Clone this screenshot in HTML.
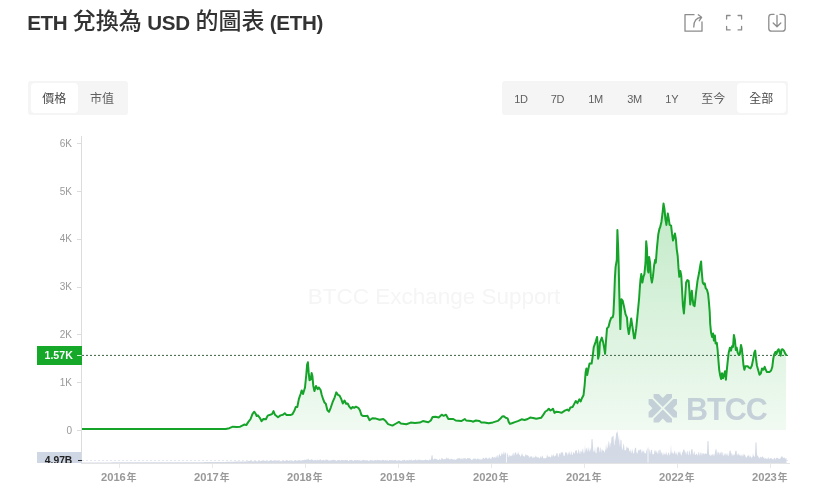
<!DOCTYPE html>
<html lang="zh-Hant">
<head>
<meta charset="utf-8">
<title>ETH 兌換為 USD 的圖表 (ETH)</title>
<style>
html,body{margin:0;padding:0;background:#fff;}
body{width:821px;height:492px;position:relative;overflow:hidden;font-family:"Liberation Sans","Noto Sans CJK TC",sans-serif;color:#333;}
.title{position:absolute;left:0;top:0;height:44px;width:400px;color:#333;white-space:nowrap;}
.title span{position:absolute;top:8px;line-height:28px;white-space:nowrap;}
.title .l{font-size:20.6px;font-weight:bold;top:8.8px;letter-spacing:-0.35px;}
.title .c{font-size:23px;font-weight:500;top:7px;}
.tabs{position:absolute;top:80.5px;height:34px;background:#f5f5f5;border-radius:3px;box-sizing:border-box;}
.tab{position:absolute;top:2.5px;height:29.5px;line-height:33.2px;text-align:center;font-size:12px;color:#606060;border-radius:4px;white-space:nowrap;}
.tab.on{background:#fff;color:#484848;}
svg{position:absolute;left:0;top:0;}
.yl{font-size:10px;fill:#999;text-anchor:end;}
.xl{font-size:11.2px;fill:#999;text-anchor:middle;font-weight:bold;}
</style>
</head>
<body>
<div class="title"><span class="l" style="left:27.2px">ETH </span><span class="c" style="left:72.8px">兌換為</span><span class="l" style="left:147.3px">USD </span><span class="c" style="left:195.5px">的圖表</span><span class="l" style="left:269.8px">(ETH)</span></div>

<div class="tabs" style="left:28px;width:100px;">
  <div class="tab on" style="left:2.5px;width:47.7px;">價格</div>
  <div class="tab" style="left:50.2px;width:47.5px;">市值</div>
</div>

<div class="tabs" style="left:501.5px;width:286.5px;">
  <div class="tab" style="left:1.5px;width:36px;font-size:11px;letter-spacing:-0.3px;">1D</div>
  <div class="tab" style="left:37.5px;width:37px;font-size:11px;letter-spacing:-0.3px;">7D</div>
  <div class="tab" style="left:74.5px;width:39px;font-size:11px;letter-spacing:-0.3px;">1M</div>
  <div class="tab" style="left:113.5px;width:39px;font-size:11px;letter-spacing:-0.3px;">3M</div>
  <div class="tab" style="left:152.5px;width:35.5px;font-size:11px;letter-spacing:-0.3px;">1Y</div>
  <div class="tab" style="left:188px;width:47.5px;">至今</div>
  <div class="tab on" style="left:235.5px;width:48.5px;">全部</div>
</div>

<svg width="821" height="492" viewBox="0 0 821 492">
  <defs>
    <linearGradient id="g" x1="0" y1="203" x2="0" y2="430" gradientUnits="userSpaceOnUse">
      <stop offset="0" stop-color="#25b338" stop-opacity="0.28"/>
      <stop offset="1" stop-color="#25b338" stop-opacity="0.065"/>
    </linearGradient>
  </defs>

  <!-- toolbar icons -->
  <g fill="none" stroke="#8c8c8c" stroke-width="1.3" stroke-linecap="round" stroke-linejoin="round">
    <path d="M694,14.7 H685 V31.2 H702 V22"/>
    <path d="M693.8,27 C693.8,21 696.5,17.6 701.3,17.4 M698.3,14.8 L701.6,17.3 L699.2,20.8"/>
    <path d="M726.6,19 V15.5 H730.1 M738.1,15.5 H741.6 V19 M741.6,26.4 V29.9 H738.1 M730.1,29.9 H726.6 V26.4"/>
    <path d="M774,14.4 H771.6 Q768.8,14.4 768.8,17.2 V28.4 Q768.8,31.2 771.6,31.2 H782.4 Q785.2,31.2 785.2,28.4 V17.2 Q785.2,14.4 782.4,14.4 H780"/>
    <path d="M777,15.4 V26.6 M773.2,23 L777,26.8 L780.8,23"/>
  </g>

  <!-- watermark center -->
  <text x="434" y="304" font-size="22.5" fill="#f5f5f5" text-anchor="middle">BTCC Exchange Support</text>

  <!-- area + line -->
  <path d="M82.0,429.0 L120.0,429.0 L160.0,429.0 L200.0,429.0 L225.6,429.0 L229.3,428.2 L232.9,426.7 L236.6,427.0 L240.2,426.7 L242.7,425.4 L244.5,424.5 L246.3,425.1 L248.2,422.1 L250.6,419.0 L252.4,414.1 L254.3,411.7 L255.5,413.5 L256.7,416.0 L257.9,415.4 L259.8,417.8 L261.6,421.2 L263.4,419.0 L265.9,419.3 L267.7,415.6 L270.1,414.8 L272.0,414.1 L273.5,411.1 L275.0,414.8 L278.0,417.2 L280.5,415.4 L282.9,414.8 L284.8,413.2 L286.6,415.1 L290.2,415.1 L292.4,414.3 L294.6,410.3 L295.7,407.0 L297.3,407.0 L298.9,398.9 L300.6,394.0 L301.7,390.4 L303.0,394.0 L305.0,387.5 L306.3,374.5 L307.1,364.8 L307.9,362.3 L308.7,372.9 L309.5,380.2 L310.8,379.4 L311.6,372.9 L312.4,376.1 L313.3,385.9 L314.4,391.1 L316.0,385.9 L317.6,389.1 L318.9,387.5 L320.6,390.0 L321.7,394.8 L323.3,399.7 L324.5,402.5 L325.8,403.8 L327.4,410.3 L329.0,411.9 L330.7,407.8 L332.6,402.2 L334.7,397.3 L336.3,392.4 L338.0,394.8 L339.6,395.7 L341.2,398.9 L342.8,403.5 L344.5,400.5 L346.1,403.8 L347.7,403.5 L349.3,406.7 L351.0,408.7 L352.6,407.0 L354.2,407.8 L355.9,406.7 L358.3,407.8 L359.9,410.3 L361.5,415.2 L363.2,416.0 L366.4,416.0 L367.4,415.8 L369.6,420.2 L372.3,418.3 L376.0,418.6 L379.6,419.8 L383.3,419.0 L385.7,421.1 L388.1,424.1 L392.4,425.6 L396.1,423.5 L398.9,421.9 L400.9,423.5 L406.4,424.3 L410.7,422.6 L414.9,423.1 L419.8,422.6 L422.9,421.1 L428.3,422.3 L430.8,420.5 L432.6,417.0 L435.6,416.8 L438.7,417.4 L441.7,414.7 L443.6,415.8 L446.0,414.7 L448.4,419.0 L453.3,419.0 L455.7,420.5 L461.2,421.1 L463.0,420.2 L464.9,419.0 L466.1,420.5 L471.0,420.9 L472.8,421.7 L475.9,420.5 L479.5,420.9 L481.3,422.4 L484.4,422.4 L488.7,423.3 L492.9,422.4 L497.8,420.9 L500.2,418.8 L502.1,416.6 L503.9,416.3 L505.7,417.8 L507.6,418.4 L508.8,422.1 L510.0,423.9 L511.8,423.3 L514.9,422.1 L518.5,420.9 L521.6,419.3 L524.6,420.0 L527.7,419.0 L530.1,417.6 L533.2,418.0 L536.2,418.8 L541.1,417.8 L542.9,415.4 L545.4,411.5 L547.2,410.5 L548.8,408.7 L550.2,410.5 L551.5,409.9 L552.9,408.7 L554.5,412.9 L556.3,411.7 L558.3,411.9 L561.5,412.8 L564.8,410.7 L567.2,409.6 L568.8,410.7 L570.4,407.5 L572.6,407.0 L574.5,403.4 L575.8,401.0 L577.4,403.1 L579.4,399.3 L580.7,401.5 L581.8,398.5 L583.5,395.3 L584.6,385.5 L585.6,372.5 L586.4,368.5 L587.2,375.0 L588.3,369.3 L589.5,363.6 L591.6,363.6 L592.7,356.3 L593.7,347.3 L595.7,341.6 L597.1,336.9 L597.6,345.0 L598.1,358.7 L599.2,354.6 L599.9,342.6 L601.8,337.6 L603.2,342.6 L604.2,348.0 L605.1,353.8 L606.1,339.7 L607.0,328.4 L608.5,326.9 L609.9,321.3 L611.3,317.7 L612.7,317.3 L613.4,314.1 L614.2,297.1 L614.9,278.0 L615.6,266.9 L616.8,259.8 L617.4,230.0 L618.2,248.4 L618.8,269.8 L619.2,289.7 L619.9,315.6 L620.3,329.1 L620.8,315.6 L621.4,299.2 L622.7,300.6 L624.1,307.0 L625.5,314.1 L627.0,317.7 L627.7,326.9 L628.8,334.1 L629.8,328.4 L631.2,318.4 L632.7,328.4 L634.1,338.3 L634.8,338.3 L636.2,328.4 L637.6,314.1 L639.1,298.5 L639.8,288.0 L640.5,279.7 L641.3,274.1 L642.4,282.6 L643.4,276.9 L644.4,274.1 L645.5,262.7 L646.2,241.3 L646.9,248.4 L647.7,269.8 L648.4,272.6 L649.1,257.0 L650.1,262.7 L650.9,276.9 L651.9,282.6 L652.9,276.9 L654.1,265.5 L655.2,259.8 L655.8,262.7 L656.9,248.4 L658.3,234.2 L659.5,228.5 L660.0,227.7 L661.4,222.0 L662.5,213.5 L663.5,203.5 L664.5,209.2 L665.4,219.2 L666.4,224.9 L667.1,219.2 L667.8,213.5 L668.8,219.2 L669.6,224.9 L671.1,225.6 L672.0,233.4 L673.0,240.5 L673.9,237.7 L674.9,233.4 L675.9,239.1 L676.7,249.1 L677.7,256.0 L678.5,267.9 L679.3,276.8 L680.4,271.1 L681.3,276.0 L682.1,290.7 L682.9,305.3 L683.9,313.4 L684.8,302.0 L686.1,282.5 L687.4,280.1 L688.6,280.9 L689.4,290.7 L690.2,304.5 L691.0,298.8 L691.8,290.7 L692.6,298.8 L693.5,305.3 L694.6,306.1 L695.9,293.9 L697.5,280.9 L699.1,272.8 L700.4,264.6 L701.1,261.4 L701.7,271.1 L702.7,282.5 L703.7,284.1 L704.7,283.3 L705.7,288.2 L707.0,289.8 L708.1,293.9 L708.9,302.0 L709.7,311.8 L710.2,324.0 L711.1,332.8 L712.1,337.1 L713.1,333.5 L713.9,340.6 L714.9,335.6 L715.6,343.5 L716.8,342.8 L717.6,349.9 L718.5,361.3 L719.2,369.8 L720.2,375.5 L721.1,379.0 L722.0,373.3 L723.0,378.3 L724.2,374.1 L725.0,371.2 L725.9,379.7 L726.7,371.2 L727.7,361.3 L728.7,352.7 L729.9,347.7 L731.0,350.6 L732.0,346.3 L733.0,347.0 L733.9,334.9 L734.9,339.9 L735.8,349.9 L736.7,347.7 L737.7,352.7 L738.7,354.9 L739.8,354.1 L741.0,344.9 L741.8,348.4 L742.7,357.0 L743.5,365.5 L744.4,369.8 L745.5,366.2 L747.7,366.2 L749.1,367.7 L750.5,368.4 L751.9,365.5 L753.3,358.4 L754.3,352.7 L755.2,350.6 L756.0,358.4 L756.9,365.5 L758.3,370.5 L759.5,374.8 L760.9,373.3 L762.0,368.4 L763.3,369.8 L764.7,366.9 L765.7,369.8 L766.9,371.9 L769.7,371.9 L771.1,370.5 L772.3,366.9 L773.3,358.4 L774.3,354.1 L775.4,352.0 L776.4,354.1 L777.5,350.6 L778.7,349.2 L779.7,352.7 L780.7,355.6 L781.4,349.9 L782.5,349.2 L783.9,350.6 L785.1,353.4 L786.1,354.9 L786.1,430 L82,430 Z" fill="url(#g)"/>

  <!-- BTCC logo watermark -->
  <g fill="#aab6c9" opacity="0.6">
    <g transform="translate(662.8,408.2)"><path transform="rotate(0)" d="M-1.3,0.0 L-10.5,-9.2 L-14.2,-9.2 L-14.2,-3.9 L-10.3,0.0 L-14.2,3.9 L-14.2,9.2 L-10.5,9.2 Z"/><path transform="rotate(90)" d="M-1.3,0.0 L-10.5,-9.2 L-14.2,-9.2 L-14.2,-3.9 L-10.3,0.0 L-14.2,3.9 L-14.2,9.2 L-10.5,9.2 Z"/><path transform="rotate(180)" d="M-1.3,0.0 L-10.5,-9.2 L-14.2,-9.2 L-14.2,-3.9 L-10.3,0.0 L-14.2,3.9 L-14.2,9.2 L-10.5,9.2 Z"/><path transform="rotate(270)" d="M-1.3,0.0 L-10.5,-9.2 L-14.2,-9.2 L-14.2,-3.9 L-10.3,0.0 L-14.2,3.9 L-14.2,9.2 L-10.5,9.2 Z"/></g>
    <text x="686" y="420" font-size="30.5" font-weight="bold" letter-spacing="-1">BTCC</text>
  </g>

  <!-- volume dotted line -->
  <line x1="82" y1="460.5" x2="790" y2="460.5" stroke="#e4e8f1" stroke-width="1" stroke-dasharray="2,2"/>
  <!-- volume -->
  <path d="M82,463 L82.0,462.4 L82.5,462.4 L83.0,462.4 L83.5,462.4 L84.0,462.4 L84.5,462.4 L85.0,462.4 L85.5,462.4 L86.0,462.4 L86.5,462.4 L87.0,462.4 L87.5,462.4 L88.0,462.4 L88.5,462.4 L89.0,462.4 L89.5,462.4 L90.0,462.4 L90.5,462.4 L91.0,462.4 L91.5,462.4 L92.0,462.4 L92.5,462.4 L93.0,462.4 L93.5,462.4 L94.0,462.4 L94.5,462.4 L95.0,462.4 L95.5,462.4 L96.0,462.4 L96.5,462.4 L97.0,462.4 L97.5,462.4 L98.0,462.4 L98.5,462.4 L99.0,462.4 L99.5,462.4 L100.0,462.4 L100.5,462.4 L101.0,462.4 L101.5,462.4 L102.0,462.4 L102.5,462.4 L103.0,462.4 L103.5,462.4 L104.0,462.4 L104.5,462.4 L105.0,462.4 L105.5,462.4 L106.0,462.4 L106.5,462.4 L107.0,462.4 L107.5,462.4 L108.0,462.4 L108.5,462.4 L109.0,462.4 L109.5,462.4 L110.0,462.4 L110.5,462.4 L111.0,462.4 L111.5,462.4 L112.0,462.3 L112.5,462.3 L113.0,462.3 L113.5,462.3 L114.0,462.3 L114.5,462.3 L115.0,462.3 L115.5,462.3 L116.0,462.3 L116.5,462.3 L117.0,462.3 L117.5,462.3 L118.0,462.3 L118.5,462.3 L119.0,462.3 L119.5,462.3 L120.0,462.3 L120.5,462.3 L121.0,462.3 L121.5,462.3 L122.0,462.3 L122.5,462.3 L123.0,462.3 L123.5,462.3 L124.0,462.3 L124.5,462.3 L125.0,462.3 L125.5,462.3 L126.0,462.3 L126.5,462.3 L127.0,462.3 L127.5,462.3 L128.0,462.3 L128.5,462.3 L129.0,462.3 L129.5,462.3 L130.0,462.3 L130.5,462.3 L131.0,462.3 L131.5,462.3 L132.0,462.3 L132.5,462.3 L133.0,462.3 L133.5,462.3 L134.0,462.3 L134.5,462.3 L135.0,462.3 L135.5,462.3 L136.0,462.3 L136.5,462.3 L137.0,462.3 L137.5,462.3 L138.0,462.3 L138.5,462.3 L139.0,462.3 L139.5,462.3 L140.0,462.3 L140.5,462.3 L141.0,462.3 L141.5,462.3 L142.0,462.3 L142.5,462.3 L143.0,462.3 L143.5,462.3 L144.0,462.3 L144.5,462.3 L145.0,462.3 L145.5,462.3 L146.0,462.3 L146.5,462.3 L147.0,462.3 L147.5,462.3 L148.0,462.3 L148.5,462.3 L149.0,462.3 L149.5,462.3 L150.0,462.3 L150.5,462.3 L151.0,462.3 L151.5,462.3 L152.0,462.3 L152.5,462.3 L153.0,462.3 L153.5,462.3 L154.0,462.3 L154.5,462.3 L155.0,462.3 L155.5,462.3 L156.0,462.3 L156.5,462.3 L157.0,462.3 L157.5,462.3 L158.0,462.3 L158.5,462.3 L159.0,462.3 L159.5,462.3 L160.0,462.3 L160.5,462.3 L161.0,462.3 L161.5,462.3 L162.0,462.3 L162.5,462.3 L163.0,462.3 L163.5,462.3 L164.0,462.3 L164.5,462.3 L165.0,462.3 L165.5,462.3 L166.0,462.3 L166.5,462.3 L167.0,462.3 L167.5,462.3 L168.0,462.3 L168.5,462.3 L169.0,462.3 L169.5,462.3 L170.0,462.3 L170.5,462.2 L171.0,462.2 L171.5,462.2 L172.0,462.2 L172.5,462.2 L173.0,462.2 L173.5,462.2 L174.0,462.2 L174.5,462.2 L175.0,462.2 L175.5,462.2 L176.0,462.2 L176.5,462.2 L177.0,462.2 L177.5,462.2 L178.0,462.2 L178.5,462.2 L179.0,462.2 L179.5,462.2 L180.0,462.2 L180.5,462.2 L181.0,462.2 L181.5,462.2 L182.0,462.2 L182.5,462.2 L183.0,462.2 L183.5,462.2 L184.0,462.2 L184.5,462.2 L185.0,462.2 L185.5,462.2 L186.0,462.2 L186.5,462.2 L187.0,462.2 L187.5,462.2 L188.0,462.2 L188.5,462.2 L189.0,462.2 L189.5,462.2 L190.0,462.2 L190.5,462.2 L191.0,462.2 L191.5,462.2 L192.0,462.2 L192.5,462.2 L193.0,462.2 L193.5,462.2 L194.0,462.2 L194.5,462.2 L195.0,462.2 L195.5,462.2 L196.0,462.2 L196.5,462.2 L197.0,462.2 L197.5,462.2 L198.0,462.2 L198.5,462.2 L199.0,462.2 L199.5,462.2 L200.0,462.2 L200.5,462.2 L201.0,462.2 L201.5,462.2 L202.0,462.2 L202.5,462.2 L203.0,462.2 L203.5,462.2 L204.0,462.1 L204.5,462.1 L205.0,462.1 L205.5,462.1 L206.0,462.1 L206.5,462.1 L207.0,462.1 L207.5,462.1 L208.0,462.1 L208.5,462.1 L209.0,462.1 L209.5,462.1 L210.0,462.1 L210.5,462.1 L211.0,462.1 L211.5,462.0 L212.0,462.0 L212.5,462.0 L213.0,462.0 L213.5,462.0 L214.0,462.0 L214.5,462.0 L215.0,462.0 L215.5,462.0 L216.0,462.0 L216.5,462.0 L217.0,462.0 L217.5,462.0 L218.0,462.0 L218.5,462.0 L219.0,461.9 L219.5,461.9 L220.0,461.9 L220.5,461.9 L221.0,461.9 L221.5,461.9 L222.0,461.9 L222.5,461.9 L223.0,461.9 L223.5,461.9 L224.0,461.9 L224.5,461.9 L225.0,461.9 L225.5,461.9 L226.0,461.9 L226.5,461.8 L227.0,461.8 L227.5,461.8 L228.0,461.8 L228.5,461.8 L229.0,461.8 L229.5,461.8 L230.0,461.8 L230.5,461.8 L231.0,461.8 L231.5,461.8 L232.0,461.7 L232.5,461.7 L233.0,461.7 L233.5,461.7 L234.0,461.7 L234.5,461.7 L235.0,461.6 L235.5,461.6 L236.0,461.6 L236.5,461.6 L237.0,461.6 L237.5,461.6 L238.0,461.6 L238.5,461.5 L239.0,461.5 L239.5,461.5 L240.0,461.5 L240.5,461.6 L241.0,461.7 L241.5,461.2 L242.0,461.8 L242.5,461.3 L243.0,461.5 L243.5,461.7 L244.0,461.3 L244.5,461.7 L245.0,461.3 L245.5,461.7 L246.0,461.6 L246.5,461.3 L247.0,460.9 L247.5,461.6 L248.0,461.5 L248.5,461.0 L249.0,460.7 L249.5,461.0 L250.0,461.2 L250.5,460.6 L251.0,461.6 L251.5,460.7 L252.0,461.3 L252.5,461.5 L253.0,461.5 L253.5,461.3 L254.0,460.7 L254.5,461.4 L255.0,461.0 L255.5,460.9 L256.0,461.2 L256.5,461.0 L257.0,461.5 L257.5,461.5 L258.0,461.4 L258.5,460.8 L259.0,461.1 L259.5,461.2 L260.0,460.9 L260.5,461.1 L261.0,461.2 L261.5,460.7 L262.0,460.8 L262.5,461.3 L263.0,460.9 L263.5,461.0 L264.0,460.6 L264.5,460.7 L265.0,461.2 L265.5,460.4 L266.0,461.4 L266.5,461.1 L267.0,460.7 L267.5,461.4 L268.0,461.0 L268.5,461.5 L269.0,460.8 L269.5,460.6 L270.0,460.9 L270.5,460.5 L271.0,461.2 L271.5,460.7 L272.0,460.8 L272.5,460.8 L273.0,461.0 L273.5,460.5 L274.0,460.4 L274.5,460.9 L275.0,460.7 L275.5,461.4 L276.0,460.6 L276.5,460.7 L277.0,460.3 L277.5,460.5 L278.0,461.1 L278.5,461.0 L279.0,460.7 L279.5,461.4 L280.0,460.9 L280.5,461.3 L281.0,461.3 L281.5,461.4 L282.0,460.5 L282.5,461.3 L283.0,461.1 L283.5,461.0 L284.0,460.4 L284.5,461.3 L285.0,460.9 L285.5,460.7 L286.0,460.3 L286.5,460.4 L287.0,460.3 L287.5,461.1 L288.0,460.9 L288.5,461.0 L289.0,460.3 L289.5,460.2 L290.0,461.2 L290.5,461.2 L291.0,461.1 L291.5,461.1 L292.0,460.8 L292.5,460.6 L293.0,461.1 L293.5,461.4 L294.0,460.8 L294.5,460.9 L295.0,460.6 L295.5,460.1 L296.0,460.5 L296.5,460.7 L297.0,460.6 L297.5,460.5 L298.0,461.3 L298.5,460.2 L299.0,460.3 L299.5,460.2 L300.0,460.3 L300.5,460.7 L301.0,460.5 L301.5,460.8 L302.0,459.8 L302.5,460.7 L303.0,460.5 L303.5,460.2 L304.0,460.1 L304.5,459.6 L305.0,460.1 L305.5,460.1 L306.0,459.6 L306.5,459.8 L307.0,459.3 L307.5,460.1 L308.0,458.3 L308.5,459.0 L309.0,460.1 L309.5,459.9 L310.0,459.8 L310.5,459.9 L311.0,460.4 L311.5,459.1 L312.0,459.0 L312.5,459.9 L313.0,459.9 L313.5,460.6 L314.0,460.6 L314.5,460.2 L315.0,460.3 L315.5,459.4 L316.0,460.6 L316.5,460.8 L317.0,459.2 L317.5,460.0 L318.0,460.6 L318.5,460.0 L319.0,460.9 L319.5,460.0 L320.0,459.3 L320.5,459.5 L321.0,459.8 L321.5,460.5 L322.0,460.4 L322.5,460.7 L323.0,459.7 L323.5,460.1 L324.0,459.8 L324.5,460.5 L325.0,460.7 L325.5,459.8 L326.0,459.5 L326.5,459.7 L327.0,459.8 L327.5,459.8 L328.0,459.9 L328.5,460.7 L329.0,460.3 L329.5,460.6 L330.0,461.1 L330.5,461.1 L331.0,460.7 L331.5,460.7 L332.0,460.1 L332.5,459.7 L333.0,460.5 L333.5,459.7 L334.0,459.7 L334.5,459.7 L335.0,460.6 L335.5,460.8 L336.0,460.8 L336.5,460.8 L337.0,460.8 L337.5,460.2 L338.0,459.8 L338.5,459.9 L339.0,460.4 L339.5,460.2 L340.0,459.9 L340.5,461.0 L341.0,460.2 L341.5,459.8 L342.0,460.0 L342.5,460.0 L343.0,460.4 L343.5,460.9 L344.0,460.0 L344.5,460.6 L345.0,460.0 L345.5,459.7 L346.0,460.6 L346.5,460.5 L347.0,459.7 L347.5,460.1 L348.0,460.9 L348.5,461.0 L349.0,460.9 L349.5,459.8 L350.0,460.0 L350.5,460.9 L351.0,459.9 L351.5,459.7 L352.0,460.2 L352.5,460.6 L353.0,460.3 L353.5,461.0 L354.0,461.1 L354.5,459.7 L355.0,460.2 L355.5,460.4 L356.0,459.8 L356.5,460.5 L357.0,459.9 L357.5,459.9 L358.0,460.8 L358.5,460.8 L359.0,460.7 L359.5,460.8 L360.0,460.3 L360.5,460.8 L361.0,460.5 L361.5,461.0 L362.0,459.8 L362.5,460.6 L363.0,460.5 L363.5,460.3 L364.0,459.8 L364.5,460.5 L365.0,459.8 L365.5,460.4 L366.0,460.4 L366.5,460.4 L367.0,461.1 L367.5,460.5 L368.0,460.9 L368.5,461.2 L369.0,460.0 L369.5,460.9 L370.0,460.5 L370.5,460.1 L371.0,460.4 L371.5,460.7 L372.0,460.4 L372.5,460.4 L373.0,460.0 L373.5,461.0 L374.0,460.4 L374.5,460.8 L375.0,460.8 L375.5,460.0 L376.0,460.4 L376.5,460.4 L377.0,460.1 L377.5,459.8 L378.0,460.5 L378.5,460.3 L379.0,460.4 L379.5,460.4 L380.0,460.2 L380.5,460.5 L381.0,460.4 L381.5,460.5 L382.0,459.8 L382.5,460.2 L383.0,459.9 L383.5,459.8 L384.0,460.8 L384.5,460.4 L385.0,459.8 L385.5,460.0 L386.0,461.0 L386.5,461.0 L387.0,460.5 L387.5,461.1 L388.0,460.8 L388.5,461.1 L389.0,460.2 L389.5,460.1 L390.0,459.9 L390.5,461.0 L391.0,460.2 L391.5,460.2 L392.0,461.0 L392.5,459.9 L393.0,459.8 L393.5,460.9 L394.0,459.8 L394.5,460.6 L395.0,460.5 L395.5,459.8 L396.0,460.0 L396.5,461.0 L397.0,460.6 L397.5,460.5 L398.0,460.7 L398.5,460.9 L399.0,460.7 L399.5,460.2 L400.0,461.2 L400.5,460.4 L401.0,460.5 L401.5,461.1 L402.0,460.7 L402.5,460.2 L403.0,460.4 L403.5,461.0 L404.0,459.6 L404.5,459.9 L405.0,459.6 L405.5,460.9 L406.0,460.7 L406.5,461.0 L407.0,459.9 L407.5,460.6 L408.0,460.8 L408.5,460.4 L409.0,459.6 L409.5,459.7 L410.0,460.6 L410.5,460.7 L411.0,459.5 L411.5,460.0 L412.0,459.8 L412.5,460.8 L413.0,460.8 L413.5,459.8 L414.0,460.2 L414.5,460.8 L415.0,459.3 L415.5,459.8 L416.0,459.5 L416.5,460.7 L417.0,459.4 L417.5,460.7 L418.0,459.3 L418.5,460.0 L419.0,460.2 L419.5,459.8 L420.0,459.2 L420.5,460.3 L421.0,460.6 L421.5,459.8 L422.0,460.3 L422.5,460.6 L423.0,460.4 L423.5,460.6 L424.0,460.4 L424.5,460.1 L425.0,460.1 L425.5,459.3 L426.0,460.1 L426.5,459.7 L427.0,460.3 L427.5,460.0 L428.0,460.6 L428.5,460.2 L429.0,460.6 L429.5,459.2 L430.0,459.5 L430.5,460.2 L431.0,459.6 L431.5,455.6 L432.0,455.4 L432.5,455.1 L433.0,459.6 L433.5,459.4 L434.0,459.0 L434.5,458.3 L435.0,459.6 L435.5,458.5 L436.0,458.8 L436.5,458.9 L437.0,459.4 L437.5,459.5 L438.0,460.1 L438.5,459.9 L439.0,460.0 L439.5,458.4 L440.0,459.5 L440.5,459.7 L441.0,459.9 L441.5,458.0 L442.0,457.9 L442.5,458.4 L443.0,459.3 L443.5,459.3 L444.0,459.2 L444.5,458.7 L445.0,459.5 L445.5,458.7 L446.0,459.2 L446.5,457.4 L447.0,457.4 L447.5,458.5 L448.0,459.3 L448.5,457.5 L449.0,459.1 L449.5,459.0 L450.0,459.9 L450.5,458.9 L451.0,458.7 L451.5,458.7 L452.0,459.4 L452.5,458.7 L453.0,459.9 L453.5,459.3 L454.0,459.7 L454.5,459.0 L455.0,459.8 L455.5,459.9 L456.0,459.2 L456.5,459.4 L457.0,458.5 L457.5,458.7 L458.0,458.1 L458.5,458.4 L459.0,458.2 L459.5,457.8 L460.0,459.0 L460.5,459.2 L461.0,457.6 L461.5,459.6 L462.0,458.3 L462.5,458.5 L463.0,459.9 L463.5,458.0 L464.0,457.9 L464.5,458.5 L465.0,458.3 L465.5,458.1 L466.0,459.7 L466.5,458.8 L467.0,458.8 L467.5,458.1 L468.0,458.1 L468.5,458.1 L469.0,458.7 L469.5,458.0 L470.0,458.5 L470.5,458.4 L471.0,459.5 L471.5,460.0 L472.0,459.8 L472.5,459.2 L473.0,459.8 L473.5,458.2 L474.0,458.8 L474.5,458.6 L475.0,458.7 L475.5,458.5 L476.0,459.0 L476.5,460.1 L477.0,458.3 L477.5,458.4 L478.0,459.0 L478.5,458.9 L479.0,458.6 L479.5,460.0 L480.0,458.5 L480.5,459.5 L481.0,459.9 L481.5,459.4 L482.0,458.2 L482.5,459.4 L483.0,458.0 L483.5,457.4 L484.0,458.5 L484.5,458.7 L485.0,458.4 L485.5,457.8 L486.0,457.5 L486.5,457.9 L487.0,457.7 L487.5,459.2 L488.0,459.0 L488.5,458.6 L489.0,457.1 L489.5,458.4 L490.0,457.5 L490.5,459.1 L491.0,459.0 L491.5,458.3 L492.0,456.9 L492.5,456.8 L493.0,456.8 L493.5,458.0 L494.0,457.2 L494.5,457.3 L495.0,457.2 L495.5,458.3 L496.0,455.6 L496.5,457.9 L497.0,455.1 L497.5,455.2 L498.0,458.4 L498.5,456.5 L499.0,454.7 L499.5,453.6 L500.0,455.5 L500.5,455.9 L501.0,455.9 L501.5,451.9 L502.0,455.3 L502.5,452.9 L503.0,455.1 L503.5,453.0 L504.0,450.8 L504.5,455.5 L505.0,451.9 L505.5,453.7 L506.0,451.9 L506.5,453.0 L507.0,455.6 L507.5,452.4 L508.0,454.6 L508.5,456.9 L509.0,457.1 L509.5,455.0 L510.0,455.3 L510.5,455.9 L511.0,456.6 L511.5,455.6 L512.0,455.6 L512.5,453.0 L513.0,456.9 L513.5,453.2 L514.0,452.7 L514.5,456.1 L515.0,452.0 L515.5,453.0 L516.0,451.9 L516.5,454.9 L517.0,454.4 L517.5,454.2 L518.0,450.9 L518.5,453.2 L519.0,454.6 L519.5,454.4 L520.0,455.3 L520.5,456.6 L521.0,456.4 L521.5,453.1 L522.0,455.8 L522.5,453.0 L523.0,456.3 L523.5,456.3 L524.0,455.4 L524.5,456.9 L525.0,456.3 L525.5,454.1 L526.0,454.5 L526.5,455.0 L527.0,455.9 L527.5,455.0 L528.0,455.1 L528.5,456.5 L529.0,455.9 L529.5,458.4 L530.0,455.9 L530.5,457.0 L531.0,455.9 L531.5,456.3 L532.0,457.6 L532.5,458.4 L533.0,455.4 L533.5,458.2 L534.0,457.0 L534.5,457.4 L535.0,457.6 L535.5,456.1 L536.0,455.3 L536.5,457.8 L537.0,456.4 L537.5,457.7 L538.0,456.8 L538.5,457.4 L539.0,458.2 L539.5,458.2 L540.0,458.1 L540.5,455.7 L541.0,457.1 L541.5,458.1 L542.0,455.8 L542.5,455.5 L543.0,457.3 L543.5,458.4 L544.0,458.2 L544.5,458.6 L545.0,457.7 L545.5,458.5 L546.0,457.9 L546.5,457.8 L547.0,454.1 L547.5,455.8 L548.0,456.9 L548.5,456.8 L549.0,456.3 L549.5,456.8 L550.0,456.8 L550.5,457.8 L551.0,456.9 L551.5,454.0 L552.0,457.3 L552.5,455.6 L553.0,455.0 L553.5,453.9 L554.0,456.6 L554.5,456.2 L555.0,456.3 L555.5,455.5 L556.0,455.3 L556.5,452.9 L557.0,453.3 L557.5,453.1 L558.0,457.0 L558.5,457.0 L559.0,453.7 L559.5,452.8 L560.0,454.7 L560.5,454.1 L561.0,451.6 L561.5,452.4 L562.0,452.8 L562.5,452.6 L563.0,451.9 L563.5,455.5 L564.0,456.2 L564.5,455.9 L565.0,454.0 L565.5,452.1 L566.0,452.3 L566.5,452.5 L567.0,453.5 L567.5,456.1 L568.0,452.0 L568.5,454.9 L569.0,451.1 L569.5,452.5 L570.0,454.3 L570.5,455.2 L571.0,451.3 L571.5,451.8 L572.0,455.1 L572.5,455.3 L573.0,452.5 L573.5,452.1 L574.0,453.2 L574.5,454.1 L575.0,451.7 L575.5,450.7 L576.0,450.0 L576.5,450.1 L577.0,452.1 L577.5,453.6 L578.0,453.4 L578.5,448.7 L579.0,450.3 L579.5,452.8 L580.0,454.6 L580.5,451.4 L581.0,450.1 L581.5,451.7 L582.0,452.7 L582.5,449.8 L583.0,447.9 L583.5,452.6 L584.0,453.9 L584.5,451.7 L585.0,444.5 L585.5,452.5 L586.0,448.0 L586.5,448.3 L587.0,449.9 L587.5,452.1 L588.0,446.2 L588.5,451.1 L589.0,447.1 L589.5,451.5 L590.0,451.5 L590.5,447.4 L591.0,451.0 L591.5,439.0 L592.0,439.6 L592.5,438.7 L593.0,446.2 L593.5,452.4 L594.0,450.6 L594.5,452.0 L595.0,446.3 L595.5,452.6 L596.0,453.3 L596.5,453.3 L597.0,446.1 L597.5,447.3 L598.0,448.5 L598.5,446.6 L599.0,447.2 L599.5,451.6 L600.0,452.7 L600.5,447.0 L601.0,448.2 L601.5,453.4 L602.0,448.5 L602.5,450.5 L603.0,450.3 L603.5,450.5 L604.0,451.6 L604.5,452.9 L605.0,450.5 L605.5,449.7 L606.0,444.5 L606.5,450.9 L607.0,442.7 L607.5,449.1 L608.0,447.1 L608.5,441.7 L609.0,440.9 L609.5,444.5 L610.0,448.2 L610.5,442.8 L611.0,443.5 L611.5,437.7 L612.0,436.2 L612.5,437.3 L613.0,435.8 L613.5,435.8 L614.0,445.2 L614.5,445.1 L615.0,437.2 L615.5,441.5 L616.0,434.2 L616.5,431.7 L617.0,433.8 L617.5,430.2 L618.0,435.0 L618.5,441.3 L619.0,434.6 L619.5,443.2 L620.0,447.6 L620.5,439.7 L621.0,439.7 L621.5,440.5 L622.0,450.8 L622.5,449.1 L623.0,447.3 L623.5,443.6 L624.0,444.2 L624.5,449.4 L625.0,451.0 L625.5,450.0 L626.0,449.9 L626.5,446.7 L627.0,446.3 L627.5,448.2 L628.0,447.6 L628.5,448.0 L629.0,449.3 L629.5,451.4 L630.0,451.5 L630.5,451.2 L631.0,448.2 L631.5,453.3 L632.0,452.5 L632.5,448.5 L633.0,452.2 L633.5,453.6 L634.0,453.8 L634.5,450.1 L635.0,448.0 L635.5,447.9 L636.0,447.2 L636.5,452.3 L637.0,453.6 L637.5,453.6 L638.0,450.8 L638.5,449.4 L639.0,451.2 L639.5,449.7 L640.0,449.4 L640.5,449.2 L641.0,449.9 L641.5,453.7 L642.0,448.8 L642.5,452.6 L643.0,450.8 L643.5,452.1 L644.0,449.8 L644.5,453.4 L645.0,453.1 L645.5,453.2 L646.0,453.8 L646.5,449.1 L647.0,451.2 L647.5,447.8 L648.0,447.6 L648.5,447.2 L649.0,450.9 L649.5,448.8 L650.0,454.5 L650.5,452.2 L651.0,450.0 L651.5,450.0 L652.0,449.5 L652.5,455.0 L653.0,453.5 L653.5,454.6 L654.0,454.2 L654.5,449.4 L655.0,451.8 L655.5,449.7 L656.0,453.2 L656.5,450.2 L657.0,452.8 L657.5,453.9 L658.0,450.9 L658.5,449.9 L659.0,454.9 L659.5,449.4 L660.0,449.7 L660.5,449.9 L661.0,454.2 L661.5,452.2 L662.0,451.9 L662.5,454.6 L663.0,455.7 L663.5,453.9 L664.0,451.9 L664.5,454.8 L665.0,454.1 L665.5,454.7 L666.0,451.3 L666.5,452.8 L667.0,455.5 L667.5,455.3 L668.0,453.6 L668.5,452.7 L669.0,452.2 L669.5,455.4 L670.0,454.9 L670.5,451.9 L671.0,444.1 L671.5,454.1 L672.0,450.4 L672.5,454.1 L673.0,452.6 L673.5,453.8 L674.0,453.5 L674.5,450.9 L675.0,450.2 L675.5,453.8 L676.0,454.8 L676.5,451.7 L677.0,454.7 L677.5,455.8 L678.0,450.7 L678.5,453.5 L679.0,451.2 L679.5,453.6 L680.0,450.8 L680.5,453.3 L681.0,455.0 L681.5,455.8 L682.0,452.8 L682.5,452.3 L683.0,450.8 L683.5,449.4 L684.0,449.6 L684.5,449.8 L685.0,453.0 L685.5,450.8 L686.0,455.4 L686.5,453.2 L687.0,451.5 L687.5,450.6 L688.0,454.9 L688.5,455.3 L689.0,450.8 L689.5,450.6 L690.0,453.4 L690.5,455.8 L691.0,451.0 L691.5,449.1 L692.0,449.2 L692.5,449.2 L693.0,454.9 L693.5,453.9 L694.0,451.5 L694.5,451.6 L695.0,455.2 L695.5,455.0 L696.0,454.0 L696.5,453.4 L697.0,454.1 L697.5,455.5 L698.0,454.9 L698.5,452.3 L699.0,451.4 L699.5,456.0 L700.0,453.2 L700.5,452.2 L701.0,456.1 L701.5,451.8 L702.0,455.7 L702.5,453.1 L703.0,453.4 L703.5,453.0 L704.0,454.7 L704.5,454.1 L705.0,453.2 L705.5,454.1 L706.0,452.9 L706.5,454.0 L707.0,454.1 L707.5,440.7 L708.0,441.4 L708.5,440.4 L709.0,454.0 L709.5,455.5 L710.0,454.0 L710.5,455.9 L711.0,455.8 L711.5,454.2 L712.0,456.0 L712.5,454.2 L713.0,453.8 L713.5,456.3 L714.0,453.2 L714.5,456.1 L715.0,452.7 L715.5,449.5 L716.0,449.6 L716.5,449.1 L717.0,455.9 L717.5,452.2 L718.0,451.5 L718.5,452.8 L719.0,452.4 L719.5,455.6 L720.0,451.6 L720.5,454.1 L721.0,451.8 L721.5,452.1 L722.0,455.9 L722.5,452.8 L723.0,452.1 L723.5,456.4 L724.0,455.0 L724.5,453.0 L725.0,456.0 L725.5,452.4 L726.0,455.5 L726.5,452.9 L727.0,456.2 L727.5,454.5 L728.0,452.5 L728.5,455.9 L729.0,455.7 L729.5,450.7 L730.0,450.9 L730.5,450.1 L731.0,453.8 L731.5,452.8 L732.0,456.3 L732.5,453.4 L733.0,456.6 L733.5,454.6 L734.0,454.2 L734.5,455.5 L735.0,453.1 L735.5,450.4 L736.0,450.9 L736.5,450.4 L737.0,455.5 L737.5,453.6 L738.0,456.1 L738.5,452.8 L739.0,454.7 L739.5,455.7 L740.0,453.9 L740.5,455.4 L741.0,456.6 L741.5,454.1 L742.0,457.3 L742.5,453.9 L743.0,456.4 L743.5,454.8 L744.0,453.3 L744.5,455.1 L745.0,454.8 L745.5,456.3 L746.0,457.7 L746.5,457.6 L747.0,457.1 L747.5,455.2 L748.0,456.0 L748.5,455.7 L749.0,454.1 L749.5,457.3 L750.0,456.9 L750.5,455.2 L751.0,457.8 L751.5,457.9 L752.0,456.5 L752.5,457.6 L753.0,452.7 L753.5,455.7 L754.0,455.8 L754.5,457.3 L755.0,455.7 L755.5,442.5 L756.0,442.3 L756.5,442.6 L757.0,456.0 L757.5,455.3 L758.0,455.7 L758.5,457.1 L759.0,457.7 L759.5,458.7 L760.0,456.6 L760.5,456.9 L761.0,457.7 L761.5,456.9 L762.0,457.6 L762.5,456.1 L763.0,456.9 L763.5,458.5 L764.0,456.6 L764.5,459.2 L765.0,457.9 L765.5,458.3 L766.0,458.8 L766.5,459.3 L767.0,457.4 L767.5,459.5 L768.0,458.1 L768.5,457.1 L769.0,459.3 L769.5,459.1 L770.0,458.1 L770.5,458.4 L771.0,458.1 L771.5,457.7 L772.0,459.4 L772.5,459.1 L773.0,459.1 L773.5,459.8 L774.0,457.8 L774.5,458.1 L775.0,458.3 L775.5,459.9 L776.0,457.7 L776.5,457.8 L777.0,458.4 L777.5,457.6 L778.0,458.3 L778.5,458.8 L779.0,459.1 L779.5,458.6 L780.0,459.1 L780.5,458.1 L781.0,456.7 L781.5,456.7 L782.0,456.1 L782.5,456.7 L783.0,458.3 L783.5,457.6 L784.0,458.1 L784.5,457.3 L785.0,458.2 L785.5,459.1 L786.0,458.3 L786.5,457.7 L786.5,463 Z" fill="#d3d9e5"/>

  <path d="M506.5,446 V462.5 M648,447 V462.5" stroke="#fff" stroke-width="0.8" fill="none"/>
  <!-- current price dotted line -->
  <line x1="82" y1="355.4" x2="788.5" y2="355.4" stroke="#3a6342" stroke-width="1" stroke-dasharray="2,2"/>

  <path d="M82.0,429.0 L120.0,429.0 L160.0,429.0 L200.0,429.0 L225.6,429.0 L229.3,428.2 L232.9,426.7 L236.6,427.0 L240.2,426.7 L242.7,425.4 L244.5,424.5 L246.3,425.1 L248.2,422.1 L250.6,419.0 L252.4,414.1 L254.3,411.7 L255.5,413.5 L256.7,416.0 L257.9,415.4 L259.8,417.8 L261.6,421.2 L263.4,419.0 L265.9,419.3 L267.7,415.6 L270.1,414.8 L272.0,414.1 L273.5,411.1 L275.0,414.8 L278.0,417.2 L280.5,415.4 L282.9,414.8 L284.8,413.2 L286.6,415.1 L290.2,415.1 L292.4,414.3 L294.6,410.3 L295.7,407.0 L297.3,407.0 L298.9,398.9 L300.6,394.0 L301.7,390.4 L303.0,394.0 L305.0,387.5 L306.3,374.5 L307.1,364.8 L307.9,362.3 L308.7,372.9 L309.5,380.2 L310.8,379.4 L311.6,372.9 L312.4,376.1 L313.3,385.9 L314.4,391.1 L316.0,385.9 L317.6,389.1 L318.9,387.5 L320.6,390.0 L321.7,394.8 L323.3,399.7 L324.5,402.5 L325.8,403.8 L327.4,410.3 L329.0,411.9 L330.7,407.8 L332.6,402.2 L334.7,397.3 L336.3,392.4 L338.0,394.8 L339.6,395.7 L341.2,398.9 L342.8,403.5 L344.5,400.5 L346.1,403.8 L347.7,403.5 L349.3,406.7 L351.0,408.7 L352.6,407.0 L354.2,407.8 L355.9,406.7 L358.3,407.8 L359.9,410.3 L361.5,415.2 L363.2,416.0 L366.4,416.0 L367.4,415.8 L369.6,420.2 L372.3,418.3 L376.0,418.6 L379.6,419.8 L383.3,419.0 L385.7,421.1 L388.1,424.1 L392.4,425.6 L396.1,423.5 L398.9,421.9 L400.9,423.5 L406.4,424.3 L410.7,422.6 L414.9,423.1 L419.8,422.6 L422.9,421.1 L428.3,422.3 L430.8,420.5 L432.6,417.0 L435.6,416.8 L438.7,417.4 L441.7,414.7 L443.6,415.8 L446.0,414.7 L448.4,419.0 L453.3,419.0 L455.7,420.5 L461.2,421.1 L463.0,420.2 L464.9,419.0 L466.1,420.5 L471.0,420.9 L472.8,421.7 L475.9,420.5 L479.5,420.9 L481.3,422.4 L484.4,422.4 L488.7,423.3 L492.9,422.4 L497.8,420.9 L500.2,418.8 L502.1,416.6 L503.9,416.3 L505.7,417.8 L507.6,418.4 L508.8,422.1 L510.0,423.9 L511.8,423.3 L514.9,422.1 L518.5,420.9 L521.6,419.3 L524.6,420.0 L527.7,419.0 L530.1,417.6 L533.2,418.0 L536.2,418.8 L541.1,417.8 L542.9,415.4 L545.4,411.5 L547.2,410.5 L548.8,408.7 L550.2,410.5 L551.5,409.9 L552.9,408.7 L554.5,412.9 L556.3,411.7 L558.3,411.9 L561.5,412.8 L564.8,410.7 L567.2,409.6 L568.8,410.7 L570.4,407.5 L572.6,407.0 L574.5,403.4 L575.8,401.0 L577.4,403.1 L579.4,399.3 L580.7,401.5 L581.8,398.5 L583.5,395.3 L584.6,385.5 L585.6,372.5 L586.4,368.5 L587.2,375.0 L588.3,369.3 L589.5,363.6 L591.6,363.6 L592.7,356.3 L593.7,347.3 L595.7,341.6 L597.1,336.9 L597.6,345.0 L598.1,358.7 L599.2,354.6 L599.9,342.6 L601.8,337.6 L603.2,342.6 L604.2,348.0 L605.1,353.8 L606.1,339.7 L607.0,328.4 L608.5,326.9 L609.9,321.3 L611.3,317.7 L612.7,317.3 L613.4,314.1 L614.2,297.1 L614.9,278.0 L615.6,266.9 L616.8,259.8 L617.4,230.0 L618.2,248.4 L618.8,269.8 L619.2,289.7 L619.9,315.6 L620.3,329.1 L620.8,315.6 L621.4,299.2 L622.7,300.6 L624.1,307.0 L625.5,314.1 L627.0,317.7 L627.7,326.9 L628.8,334.1 L629.8,328.4 L631.2,318.4 L632.7,328.4 L634.1,338.3 L634.8,338.3 L636.2,328.4 L637.6,314.1 L639.1,298.5 L639.8,288.0 L640.5,279.7 L641.3,274.1 L642.4,282.6 L643.4,276.9 L644.4,274.1 L645.5,262.7 L646.2,241.3 L646.9,248.4 L647.7,269.8 L648.4,272.6 L649.1,257.0 L650.1,262.7 L650.9,276.9 L651.9,282.6 L652.9,276.9 L654.1,265.5 L655.2,259.8 L655.8,262.7 L656.9,248.4 L658.3,234.2 L659.5,228.5 L660.0,227.7 L661.4,222.0 L662.5,213.5 L663.5,203.5 L664.5,209.2 L665.4,219.2 L666.4,224.9 L667.1,219.2 L667.8,213.5 L668.8,219.2 L669.6,224.9 L671.1,225.6 L672.0,233.4 L673.0,240.5 L673.9,237.7 L674.9,233.4 L675.9,239.1 L676.7,249.1 L677.7,256.0 L678.5,267.9 L679.3,276.8 L680.4,271.1 L681.3,276.0 L682.1,290.7 L682.9,305.3 L683.9,313.4 L684.8,302.0 L686.1,282.5 L687.4,280.1 L688.6,280.9 L689.4,290.7 L690.2,304.5 L691.0,298.8 L691.8,290.7 L692.6,298.8 L693.5,305.3 L694.6,306.1 L695.9,293.9 L697.5,280.9 L699.1,272.8 L700.4,264.6 L701.1,261.4 L701.7,271.1 L702.7,282.5 L703.7,284.1 L704.7,283.3 L705.7,288.2 L707.0,289.8 L708.1,293.9 L708.9,302.0 L709.7,311.8 L710.2,324.0 L711.1,332.8 L712.1,337.1 L713.1,333.5 L713.9,340.6 L714.9,335.6 L715.6,343.5 L716.8,342.8 L717.6,349.9 L718.5,361.3 L719.2,369.8 L720.2,375.5 L721.1,379.0 L722.0,373.3 L723.0,378.3 L724.2,374.1 L725.0,371.2 L725.9,379.7 L726.7,371.2 L727.7,361.3 L728.7,352.7 L729.9,347.7 L731.0,350.6 L732.0,346.3 L733.0,347.0 L733.9,334.9 L734.9,339.9 L735.8,349.9 L736.7,347.7 L737.7,352.7 L738.7,354.9 L739.8,354.1 L741.0,344.9 L741.8,348.4 L742.7,357.0 L743.5,365.5 L744.4,369.8 L745.5,366.2 L747.7,366.2 L749.1,367.7 L750.5,368.4 L751.9,365.5 L753.3,358.4 L754.3,352.7 L755.2,350.6 L756.0,358.4 L756.9,365.5 L758.3,370.5 L759.5,374.8 L760.9,373.3 L762.0,368.4 L763.3,369.8 L764.7,366.9 L765.7,369.8 L766.9,371.9 L769.7,371.9 L771.1,370.5 L772.3,366.9 L773.3,358.4 L774.3,354.1 L775.4,352.0 L776.4,354.1 L777.5,350.6 L778.7,349.2 L779.7,352.7 L780.7,355.6 L781.4,349.9 L782.5,349.2 L783.9,350.6 L785.1,353.4 L786.1,354.9" fill="none" stroke="#16a32a" stroke-width="2" stroke-linejoin="round" stroke-linecap="round"/>

  <!-- axes -->
  <g stroke="#dcdcdc" stroke-width="1" fill="none">
    <path d="M81.5,136 V463.5"/><path stroke="#e4e4e4" d="M81,463.5 H790"/>
    <path d="M77,143.5 H81 M77,191.5 H81 M77,239.5 H81 M77,287.5 H81 M77,334.5 H81 M77,382.5 H81 M77,430.5 H81"/>
    <path stroke="#e9e9e9" d="M119.5,463.5 V468 M212.5,463.5 V468 M305.5,463.5 V468 M398.5,463.5 V468 M491.5,463.5 V468 M584.5,463.5 V468 M677.5,463.5 V468 M770.5,463.5 V468"/>
  </g>

  <g class="yl">
    <text x="72" y="146.6">6K</text>
    <text x="72" y="194.6">5K</text>
    <text x="72" y="242.4">4K</text>
    <text x="72" y="290.2">3K</text>
    <text x="72" y="338">2K</text>
    <text x="72" y="385.8">1K</text>
    <text x="72" y="433.6">0</text>
  </g>

  <!-- price label -->
  <rect x="37" y="346" width="45" height="19" fill="#16a929"/>
  <line x1="77" y1="355.5" x2="81.5" y2="355.5" stroke="#d9f2dc" stroke-width="1"/>
  <text x="72.8" y="358.9" font-size="10.6" font-weight="bold" fill="#fff" text-anchor="end">1.57K</text>

  <!-- volume label (clipped) -->
  <clipPath id="c"><rect x="0" y="0" width="821" height="463"/></clipPath>
  <g clip-path="url(#c)">
    <rect x="37" y="452" width="44.5" height="19" fill="#d0d7e4"/>
    <text x="72.3" y="463.6" font-size="10.3" font-weight="bold" fill="#222" text-anchor="end">4.97B</text>
    <line x1="78" y1="460.5" x2="82" y2="460.5" stroke="#222" stroke-width="1"/>
  </g>

  <g class="xl">
    <text x="118.7" y="480.6">2016<tspan font-size="9.8" dx="0.8">年</tspan></text>
    <text x="211.7" y="480.6">2017<tspan font-size="9.8" dx="0.8">年</tspan></text>
    <text x="304.7" y="480.6">2018<tspan font-size="9.8" dx="0.8">年</tspan></text>
    <text x="397.7" y="480.6">2019<tspan font-size="9.8" dx="0.8">年</tspan></text>
    <text x="490.7" y="480.6">2020<tspan font-size="9.8" dx="0.8">年</tspan></text>
    <text x="583.7" y="480.6">2021<tspan font-size="9.8" dx="0.8">年</tspan></text>
    <text x="676.7" y="480.6">2022<tspan font-size="9.8" dx="0.8">年</tspan></text>
    <text x="769.7" y="480.6">2023<tspan font-size="9.8" dx="0.8">年</tspan></text>
  </g>
</svg>
</body>
</html>
